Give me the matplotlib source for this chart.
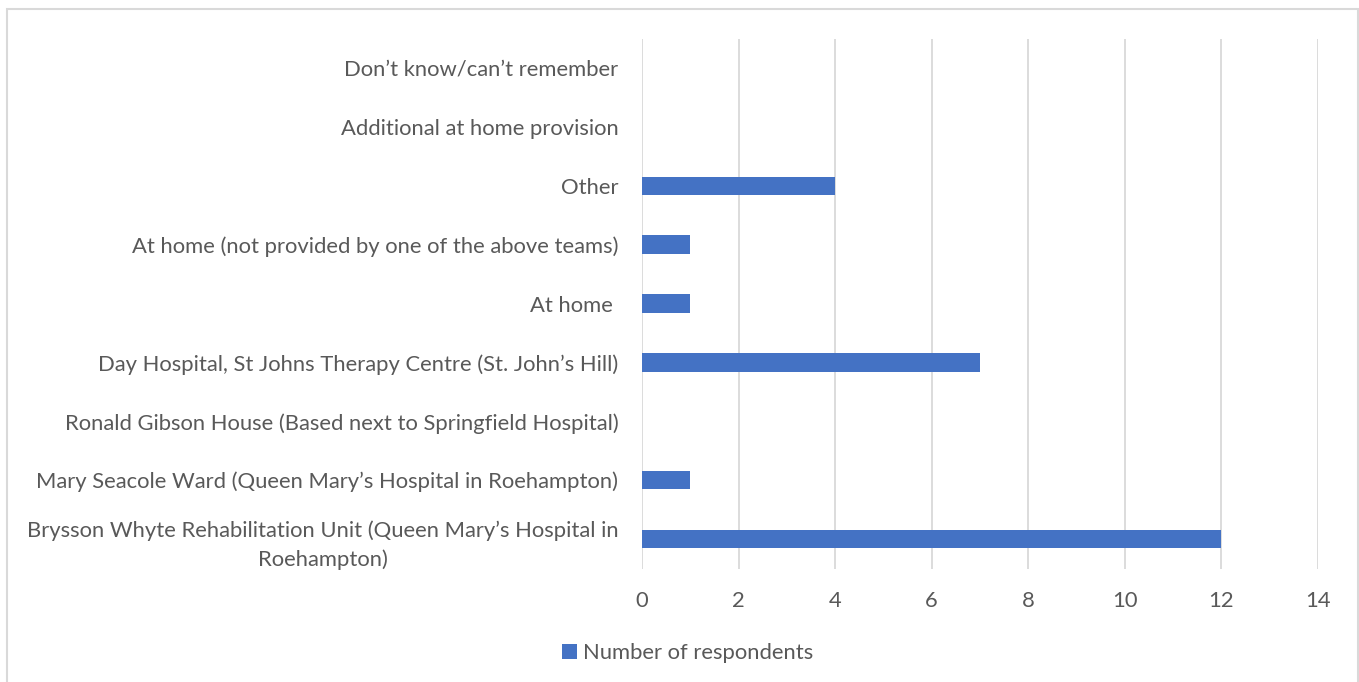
import matplotlib.pyplot as plt
from matplotlib.patches import Rectangle

categories = [
    'Brysson Whyte Rehabilitation Unit (Queen Mary\u2019s Hospital in\nRoehampton)',
    'Mary Seacole Ward (Queen Mary\u2019s Hospital in Roehampton)',
    'Ronald Gibson House (Based next to Springfield Hospital)',
    'Day Hospital, St Johns Therapy Centre (St. John\u2019s Hill)',
    'At home ',
    'At home (not provided by one of the above teams)',
    'Other',
    'Additional at home provision',
    'Don\u2019t know/can\u2019t remember',
]
respondents = [12, 1, 0, 7, 1, 1, 4, 0, 0]
xticks = [0, 2, 4, 6, 8, 10, 12, 14]

plt.rcParams['font.family'] = ['Lato', 'DejaVu Sans']
text_col = '#595959'
grid_col = '#D9D9D9'
fs = 15.8

fig = plt.figure(figsize=(13.59, 6.82), dpi=100)
ax = fig.add_axes([642 / 1359, 1 - 568.5 / 682, 676 / 1359, 530 / 682])

y = range(len(categories))
bars = ax.barh(y, respondents, height=0.31, color='#4472C4',
               label='Number of respondents', zorder=3)

ax.set_xlim(0, 14)
ax.set_ylim(-0.5, len(categories) - 0.5)
ax.set_xticks(xticks)
ax.set_xticklabels([str(t) for t in xticks], fontsize=fs, color=text_col)
ax.set_yticks(list(y))
ax.set_yticklabels(categories, fontsize=fs, color=text_col,
                   multialignment='center', linespacing=1.5)
ax.tick_params(axis='both', length=0)
ax.tick_params(axis='x', pad=16)
ax.tick_params(axis='y', pad=17)
ax.xaxis.grid(True, color=grid_col, linewidth=1.3, zorder=0)
for s in ax.spines.values():
    s.set_visible(False)

leg = fig.legend(handles=[bars], labels=['Number of respondents'],
                 loc='center', bbox_to_anchor=(688 / 1359, 1 - 653 / 682),
                 frameon=False, fontsize=fs, handlelength=0.65,
                 handleheight=0.65, handletextpad=0.3)
for t in leg.get_texts():
    t.set_color(text_col)

fig.patches.append(Rectangle((7 / 1359, -0.05), 1351 / 1359, 1.05 - 9 / 682,
                             transform=fig.transFigure, fill=False,
                             edgecolor=grid_col, linewidth=1.5))

fig.savefig('out.png', dpi=100)
